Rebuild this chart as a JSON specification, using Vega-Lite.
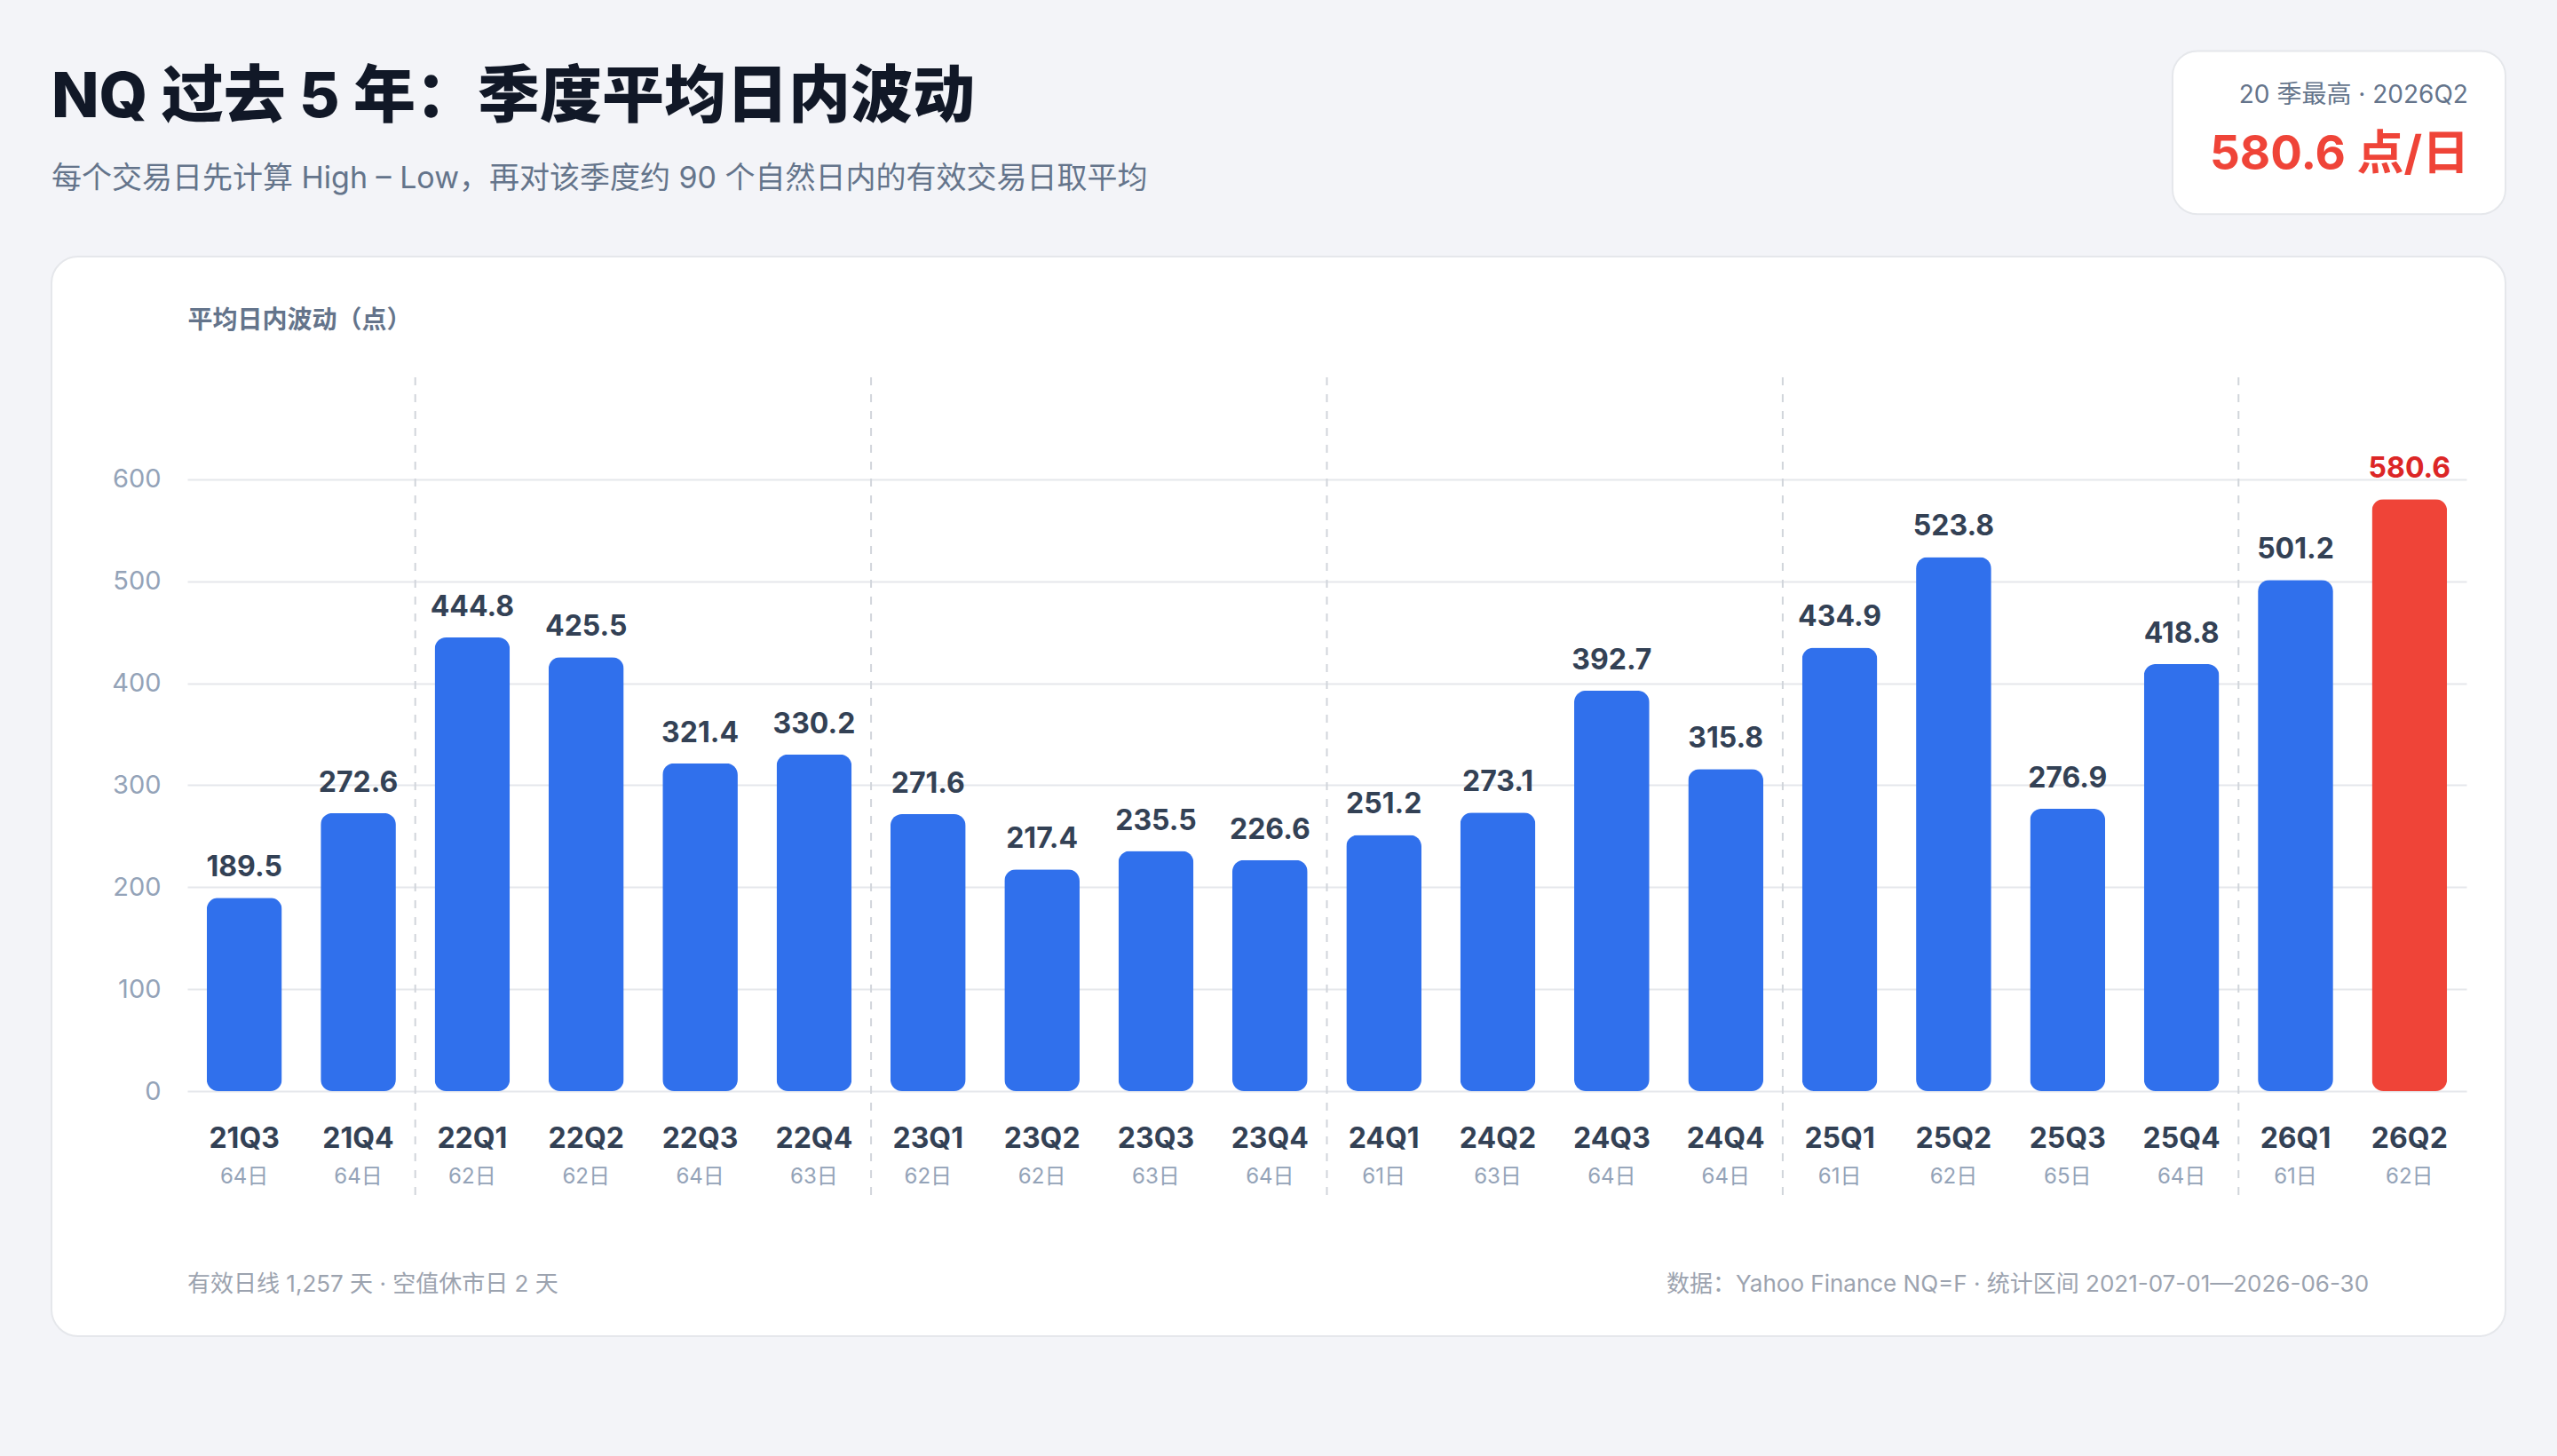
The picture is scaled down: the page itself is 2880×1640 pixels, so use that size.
{
  "$schema": "https://vega.github.io/schema/vega-lite/v6.json",
  "width": 2764,
  "height": 1216,
  "autosize": "none",
  "padding": {"left": 58, "top": 289, "right": 58, "bottom": 135},
  "background": "#f3f4f8",
  "title": {
    "text": "NQ 过去 5 年：季度平均日内波动",
    "subtitle": "每个交易日先计算 High – Low，再对该季度约 90 个自然日内的有效交易日取平均",
    "anchor": "start",
    "frame": "group",
    "offset": -164,
    "fontSize": 70,
    "fontWeight": 800,
    "color": "#111827",
    "subtitleFontSize": 34,
    "subtitleColor": "#64748b",
    "subtitlePadding": 38
  },
  "data": {
    "values": [
      {"q": "21Q3", "v": 189.5, "days": "64日"},
      {"q": "21Q4", "v": 272.6, "days": "64日"},
      {"q": "22Q1", "v": 444.8, "days": "62日"},
      {"q": "22Q2", "v": 425.5, "days": "62日"},
      {"q": "22Q3", "v": 321.4, "days": "64日"},
      {"q": "22Q4", "v": 330.2, "days": "63日"},
      {"q": "23Q1", "v": 271.6, "days": "62日"},
      {"q": "23Q2", "v": 217.4, "days": "62日"},
      {"q": "23Q3", "v": 235.5, "days": "63日"},
      {"q": "23Q4", "v": 226.6, "days": "64日"},
      {"q": "24Q1", "v": 251.2, "days": "61日"},
      {"q": "24Q2", "v": 273.1, "days": "63日"},
      {"q": "24Q3", "v": 392.7, "days": "64日"},
      {"q": "24Q4", "v": 315.8, "days": "64日"},
      {"q": "25Q1", "v": 434.9, "days": "61日"},
      {"q": "25Q2", "v": 523.8, "days": "62日"},
      {"q": "25Q3", "v": 276.9, "days": "65日"},
      {"q": "25Q4", "v": 418.8, "days": "64日"},
      {"q": "26Q1", "v": 501.2, "days": "61日"},
      {"q": "26Q2", "v": 580.6, "days": "62日"}
    ]
  },
  "resolve": {"axis": {"x": "independent", "y": "independent"}},
  "layer": [
    {
      "mark": {"type": "bar", "cornerRadius": 13},
      "encoding": {
        "x": {
          "field": "q",
          "type": "nominal",
          "scale": {"type": "band", "range": [153, 2720], "paddingInner": 0.34, "paddingOuter": 0.17},
          "axis": {
            "title": null,
            "orient": "bottom",
            "offset": -276,
            "domain": false,
            "ticks": false,
            "tickSize": 0,
            "grid": false,
            "labelAngle": 0,
            "labelFontSize": 32,
            "labelFontWeight": "bold",
            "labelColor": "#334155",
            "labelBaseline": "middle",
            "labelPadding": 53
          }
        },
        "y": {
          "field": "v",
          "type": "quantitative",
          "scale": {"domain": [0, 700], "range": [940, 136], "nice": false},
          "axis": {
            "orient": "left",
            "values": [0, 100, 200, 300, 400, 500, 600],
            "offset": -153,
            "domain": false,
            "ticks": false,
            "tickSize": 0,
            "grid": true,
            "gridColor": "#e5e7eb",
            "gridWidth": 2,
            "labelFontSize": 29,
            "labelColor": "#94a3b8",
            "labelPadding": 30,
            "title": "平均日内波动（点）",
            "titleAngle": 0,
            "titleAlign": "left",
            "titleBaseline": "middle",
            "titleX": 0,
            "titleY": 72,
            "titleFontSize": 28,
            "titleFontWeight": 600,
            "titleColor": "#64748b"
          }
        },
        "color": {
          "condition": {"test": "datum.q === '26Q2'", "value": "#ef4438"},
          "value": "#3070ec"
        }
      }
    },
    {
      "data": {"values": [{"kpi": "best"}]},
      "mark": {"type": "rect", "fill": "white", "stroke": "#e5e7eb", "strokeWidth": 2, "cornerRadius": 28},
      "encoding": {
        "x": {"datum": "25Q4", "bandPosition": 0.38, "axis": null},
        "x2": {"datum": "26Q2", "bandPosition": 1.777},
        "y": {"datum": 860, "type": "quantitative", "axis": null},
        "y2": {"datum": 1020}
      }
    },
    {
      "transform": [{"filter": {"field": "q", "oneOf": ["22Q1", "23Q1", "24Q1", "25Q1", "26Q1"]}}],
      "mark": {"type": "rule", "stroke": "#d1d5db", "strokeWidth": 2, "strokeDash": [9, 10]},
      "encoding": {
        "x": {"field": "q", "type": "nominal", "bandPosition": -0.2576, "axis": null},
        "y": {"datum": 700, "type": "quantitative", "axis": null},
        "y2": {"datum": -103.6}
      }
    },
    {
      "mark": {"type": "text", "baseline": "alphabetic", "dy": -24, "fontSize": 32, "fontWeight": "bold"},
      "encoding": {
        "x": {"field": "q", "type": "nominal", "axis": null},
        "y": {"field": "v", "type": "quantitative", "axis": null},
        "text": {"field": "v", "type": "quantitative", "format": ".1f"},
        "color": {
          "condition": {"test": "datum.q === '26Q2'", "value": "#dc2626"},
          "value": "#334155"
        }
      }
    },
    {
      "mark": {"type": "text", "baseline": "middle", "fontSize": 24, "color": "#94a3b8"},
      "encoding": {
        "x": {"field": "q", "type": "nominal", "axis": null},
        "y": {"datum": -84.5, "type": "quantitative", "axis": null},
        "text": {"field": "days"}
      }
    },
    {
      "data": {"values": [{"label": "20 季最高 · 2026Q2", "big": "580.6 点/日"}]},
      "layer": [
        {
          "mark": {"type": "text", "align": "right", "baseline": "middle", "fontSize": 28, "color": "#64748b"},
          "encoding": {
            "x": {"datum": "26Q2", "bandPosition": 1.28, "axis": null},
            "y": {"datum": 976, "type": "quantitative", "axis": null},
            "text": {"field": "label"}
          }
        },
        {
          "mark": {"type": "text", "align": "right", "baseline": "middle", "fontSize": 53, "fontWeight": "bold", "color": "#ef4438"},
          "encoding": {
            "x": {"datum": "26Q2", "bandPosition": 1.295, "axis": null},
            "y": {"datum": 917.6, "type": "quantitative", "axis": null},
            "text": {"field": "big"}
          }
        }
      ]
    },
    {
      "data": {"values": [
        {"note": "有效日线 1,257 天 · 空值休市日 2 天", "at": "21Q3", "side": "left"},
        {"note": "数据：Yahoo Finance NQ=F · 统计区间 2021-07-01—2026-06-30", "at": "26Q2", "side": "right"}
      ]},
      "layer": [
        {
          "transform": [{"filter": {"field": "side", "equal": "left"}}],
          "mark": {"type": "text", "align": "left", "baseline": "middle", "fontSize": 26, "color": "#9ca3af"},
          "encoding": {
            "x": {"field": "at", "type": "nominal", "bandPosition": -0.2576, "axis": null},
            "y": {"datum": -189.8, "type": "quantitative", "axis": null},
            "text": {"field": "note"}
          }
        },
        {
          "transform": [{"filter": {"field": "side", "equal": "right"}}],
          "mark": {"type": "text", "align": "right", "baseline": "middle", "fontSize": 26, "color": "#9ca3af"},
          "encoding": {
            "x": {"field": "at", "type": "nominal", "bandPosition": -0.04, "axis": null},
            "y": {"datum": -189.8, "type": "quantitative", "axis": null},
            "text": {"field": "note"}
          }
        }
      ]
    }
  ],
  "config": {
    "font": "Inter, 'Noto Sans CJK SC', sans-serif",
    "view": {"fill": "white", "stroke": "#e5e7eb", "strokeWidth": 2, "cornerRadius": 30}
  }
}
